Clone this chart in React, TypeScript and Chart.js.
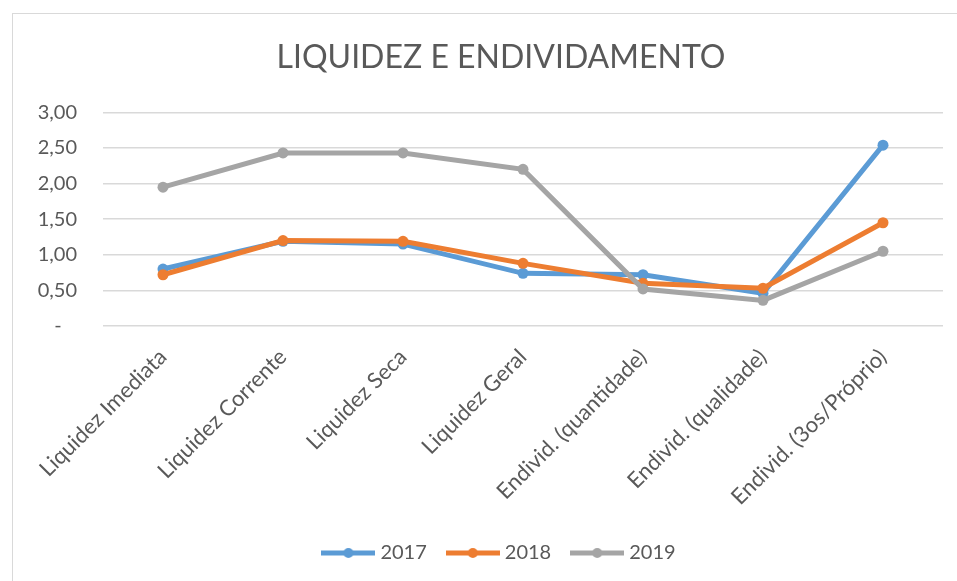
import React, { useEffect, useRef } from "react";
import { Chart, registerables } from "chart.js";

Chart.register(...registerables);

const categories = [
  "Liquidez Imediata",
  "Liquidez Corrente",
  "Liquidez Seca",
  "Liquidez Geral",
  "Endivid. (quantidade)",
  "Endivid. (qualidade)",
  "Endivid. (3os/Próprio)",
];
const series2017 = [0.8, 1.19, 1.15, 0.74, 0.72, 0.46, 2.54];
const series2018 = [0.72, 1.2, 1.19, 0.88, 0.6, 0.53, 1.45];
const series2019 = [1.95, 2.43, 2.43, 2.2, 0.52, 0.36, 1.05];
const seriesNames = ["2017", "2018", "2019"];
const seriesColors = ["#5B9BD5", "#ED7D31", "#A5A5A5"];
const yTickLabels = ["-   ", "0,50", "1,00", "1,50", "2,00", "2,50", "3,00"];
const chartTitle = "LIQUIDEZ E ENDIVIDAMENTO";

const FONT = "Lato, 'Open Sans', sans-serif";
const TEXT = "#595959";
const GRID = "#D9D9D9";

function legendSymbol(color: string): HTMLCanvasElement {
  const c = document.createElement("canvas");
  c.width = 54;
  c.height = 12;
  const ctx = c.getContext("2d")!;
  ctx.strokeStyle = color;
  ctx.lineWidth = 5;
  ctx.beginPath();
  ctx.moveTo(0, 6);
  ctx.lineTo(54, 6);
  ctx.stroke();
  ctx.fillStyle = color;
  ctx.beginPath();
  ctx.arc(27, 6, 5, 0, Math.PI * 2);
  ctx.fill();
  return c;
}

// The original chart is wider than the visible crop: centre the title and
// legend on the full chart width rather than on the visible part.
const shiftBlocks = {
  id: "shiftBlocks",
  afterLayout(chart: any) {
    const dx = 23;
    for (const b of [chart.titleBlock, chart.legend]) {
      if (b) {
        b.left += dx;
        b.right += dx;
      }
    }
  },
};

export default function App() {
  const ref = useRef<HTMLCanvasElement | null>(null);

  useEffect(() => {
    if (!ref.current) return;
    const all = [series2017, series2018, series2019];
    const symbols = seriesColors.map(legendSymbol);
    const chart = new Chart(ref.current, {
      type: "line",
      data: {
        labels: categories,
        datasets: all.map((d, i) => ({
          label: seriesNames[i],
          data: d,
          borderColor: seriesColors[i],
          backgroundColor: seriesColors[i],
          pointBackgroundColor: seriesColors[i],
          pointBorderColor: seriesColors[i],
          borderWidth: 5,
          pointRadius: 5.5,
          pointBorderWidth: 0,
          tension: 0,
          order: 3 - i,
        })),
      },
      options: {
        animation: false,
        responsive: true,
        maintainAspectRatio: false,
        layout: { padding: { left: 0, right: 48, top: 0, bottom: 8 } },
        plugins: {
          tooltip: { enabled: false },
          title: {
            display: true,
            text: chartTitle,
            color: TEXT,
            font: { family: FONT, size: 32, weight: "normal" },
            padding: { top: 24, bottom: 36 },
          },
          legend: {
            position: "bottom",
            labels: {
              color: TEXT,
              font: { family: FONT, size: 20 },
              usePointStyle: true,
              pointStyleWidth: 44,
              padding: 24,
              sort: (a: any, b: any) => a.datasetIndex - b.datasetIndex,
              generateLabels: (c: any) => {
                const items = Chart.defaults.plugins.legend.labels.generateLabels(c);
                return items.map((it: any) => ({
                  ...it,
                  pointStyle: symbols[it.datasetIndex],
                }));
              },
            },
          },
        },
        scales: {
          x: {
            offset: true,
            grid: { display: false },
            border: { display: false },
            ticks: {
              color: TEXT,
              font: { family: FONT, size: 22 },
              maxRotation: 45,
              minRotation: 45,
              padding: 10,
              autoSkip: false,
            },
            afterFit: (s: any) => {
              s.height = 193;
            },
          },
          y: {
            min: 0,
            max: 3,
            grid: { color: GRID, lineWidth: 1.5, drawTicks: false },
            border: { display: false },
            ticks: {
              stepSize: 0.5,
              color: TEXT,
              font: { family: FONT, size: 20 },
              padding: 26,
              callback: (_v: any, idx: number) => yTickLabels[idx],
            },
            afterFit: (s: any) => {
              s.width = 90;
            },
          },
        },
      },
      plugins: [shiftBlocks],
    });
    return () => chart.destroy();
  }, []);

  return (
    <div
      style={{
        position: "fixed",
        left: 12,
        top: 13,
        width: 945,
        height: 568,
        overflow: "hidden",
        borderTop: "1.5px solid #D9D9D9",
        borderLeft: "1.5px solid #D9D9D9",
        background: "#fff",
      }}
    >
      <div style={{ position: "relative", width: 978, height: 567 }}>
        <canvas ref={ref} />
      </div>
    </div>
  );
}
